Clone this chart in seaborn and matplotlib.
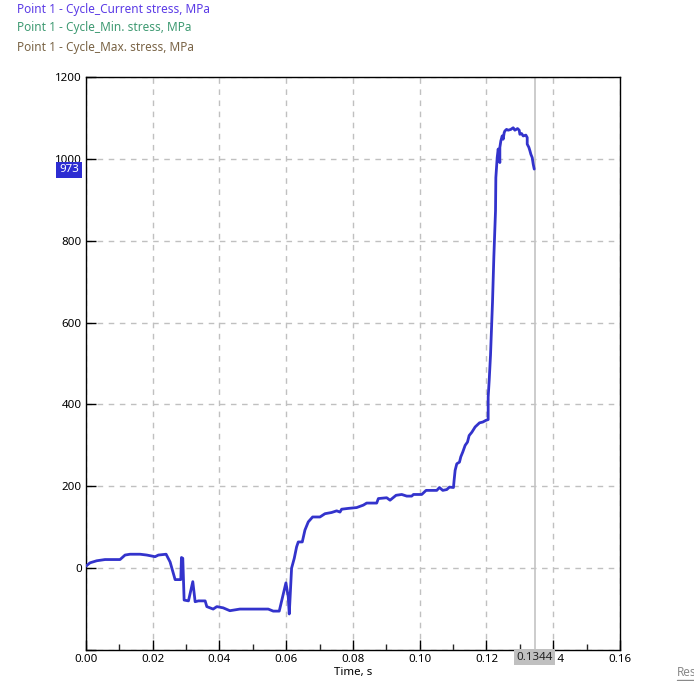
import matplotlib
matplotlib.use("Agg")
import matplotlib.pyplot as plt
from matplotlib.lines import Line2D
from matplotlib.ticker import MultipleLocator, FuncFormatter
import seaborn as sns
import pandas as pd

time_s = [0.0, 0.0012, 0.0032, 0.0057, 0.0102, 0.0117, 0.0132, 0.0162, 0.0182, 0.0207,
          0.0217, 0.0240, 0.0252, 0.0267, 0.0284, 0.0286, 0.0290, 0.0294, 0.0307, 0.0320,
          0.0327, 0.0337, 0.0357, 0.0362, 0.0381, 0.0392, 0.0411, 0.0431, 0.0461, 0.0491,
          0.0521, 0.0546, 0.0561, 0.0579, 0.0599, 0.0606, 0.0609, 0.0616, 0.0624, 0.0631,
          0.0636, 0.0648, 0.0656, 0.0666, 0.0679, 0.0701, 0.0716, 0.0736, 0.0751, 0.0761,
          0.0766, 0.0786, 0.0811, 0.0831, 0.0841, 0.0871, 0.0876, 0.0901, 0.0911, 0.0929,
          0.0946, 0.0961, 0.0976, 0.0981, 0.1006, 0.1019, 0.1051, 0.1059, 0.1069, 0.1081,
          0.1089, 0.1101, 0.1103, 0.1106, 0.1111, 0.1119, 0.1123, 0.1129, 0.1136, 0.1143,
          0.1148, 0.1156, 0.1166, 0.1179, 0.1189, 0.1198, 0.1205, 0.1205, 0.1208, 0.1212,
          0.1218, 0.1222, 0.1227, 0.1228, 0.1232, 0.1235, 0.1240, 0.1240, 0.1243, 0.1247,
          0.1250, 0.1253, 0.1255, 0.1260, 0.1265, 0.1273, 0.1280, 0.1285, 0.1293, 0.1298,
          0.1300, 0.1305, 0.1310, 0.1318, 0.1322, 0.1322, 0.1327, 0.1330, 0.1333, 0.1337,
          0.1340, 0.1343]
stress_mpa = [5, 13, 18, 21, 21, 32, 34, 34, 32, 28,
              32, 34, 15, -28, -28, 26, 24, -78, -80, -33,
              -82, -80, -80, -94, -100, -94, -97, -104, -100, -100,
              -100, -100, -105, -105, -36, -70, -112, 0, 24, 52,
              64, 64, 93, 113, 125, 125, 133, 136, 140, 137,
              144, 146, 148, 154, 159, 159, 170, 172, 166, 178,
              180, 176, 176, 180, 180, 190, 190, 197, 190, 192,
              198, 197, 215, 239, 255, 259, 272, 284, 300, 308,
              324, 332, 345, 355, 357, 361, 363, 418, 458, 520,
              650, 760, 873, 954, 1003, 1024, 991, 1028, 1044, 1056,
              1048, 1064, 1068, 1072, 1070, 1072, 1076, 1070, 1074, 1070,
              1060, 1062, 1056, 1058, 1052, 1036, 1028, 1020, 1011, 1003,
              987, 975]

legend_labels = ["Point 1 - Cycle_Current stress, MPa",
                 "Point 1 - Cycle_Min. stress, MPa",
                 "Point 1 - Cycle_Max. stress, MPa"]
legend_colors = ["#5b3be6", "#3f9a72", "#7a6446"]
cursor_time = 0.1344
cursor_label = "0.1344"
value_label = "973"
value_y = 973

df = pd.DataFrame({"Time, s": time_s, "stress": stress_mpa})

sns.set_style("white")
plt.rcParams['font.family'] = ['Noto Sans', 'DejaVu Sans']

fig = plt.figure(figsize=(6.94, 6.81), dpi=100)
ax = fig.add_axes([86/694, 1 - 650/681, (620-86)/694, (650-77)/681])

sns.lineplot(data=df, x="Time, s", y="stress", ax=ax, color="#3333cc", linewidth=2.0,
             estimator=None, sort=False, zorder=3)

ax.axvline(cursor_time, color="#c4c4c4", linewidth=1.2, zorder=2)

ax.set_xlim(0, 0.16)
ax.set_ylim(-200, 1200)
ax.xaxis.set_major_locator(MultipleLocator(0.02))
ax.xaxis.set_minor_locator(MultipleLocator(0.01))
ax.yaxis.set_major_locator(MultipleLocator(200))
ax.xaxis.set_major_formatter(matplotlib.ticker.FormatStrFormatter("%.2f"))
ax.yaxis.set_major_formatter(FuncFormatter(lambda v, p: "" if v < 0 else f"{v:.0f}"))
ax.grid(True, which="major", linestyle=(0, (4, 4)), color="#c0c0c0", linewidth=1.0)
ax.tick_params(axis="both", which="major", direction="in", length=7, width=1,
               labelsize=8.3, colors="black", bottom=True, left=True, top=False, right=False,
               pad=3)
ax.tick_params(axis="x", which="minor", direction="in", length=4, width=1, bottom=True)
for s in ax.spines.values():
    s.set_color("black")
    s.set_linewidth(1.0)
ax.set_ylabel("")
ax.set_xlabel("")
fig.text(353/694, 1 - 672/681, "Time, s", fontsize=8.3, ha="center", va="center", color="black")

for i, (lab, col) in enumerate(zip(legend_labels, legend_colors)):
    fig.text(17/694, 1 - (9 + 19*i)/681, lab, color=col, fontsize=8.5, va="center", ha="left")

# value marker on y axis
fig.canvas.draw()
yfig = ax.transData.transform((0, value_y))[1] / (6.81*100)
fig.text(79/694, yfig, value_label, color="white", fontsize=8.3, ha="right", va="center",
         bbox=dict(boxstyle="square,pad=0.25", facecolor="#2d2dd2", edgecolor="none"))
xfig = ax.transData.transform((cursor_time, 0))[0] / (6.94*100)
fig.text(xfig, 1 - 657/681, cursor_label, color="#222222", fontsize=8.3, ha="center", va="center",
         bbox=dict(boxstyle="square,pad=0.2", facecolor="#c0c0c0", edgecolor="none"))

fig.text(677/694, 1 - 673/681, "Res", color="#8a8a8a", fontsize=8.5, ha="left", va="center")
fig.add_artist(Line2D([677/694, 1.0], [1 - 680/681, 1 - 680/681], color="#8a8a8a", linewidth=1,
                      transform=fig.transFigure))

fig.savefig("out.png", dpi=100)
